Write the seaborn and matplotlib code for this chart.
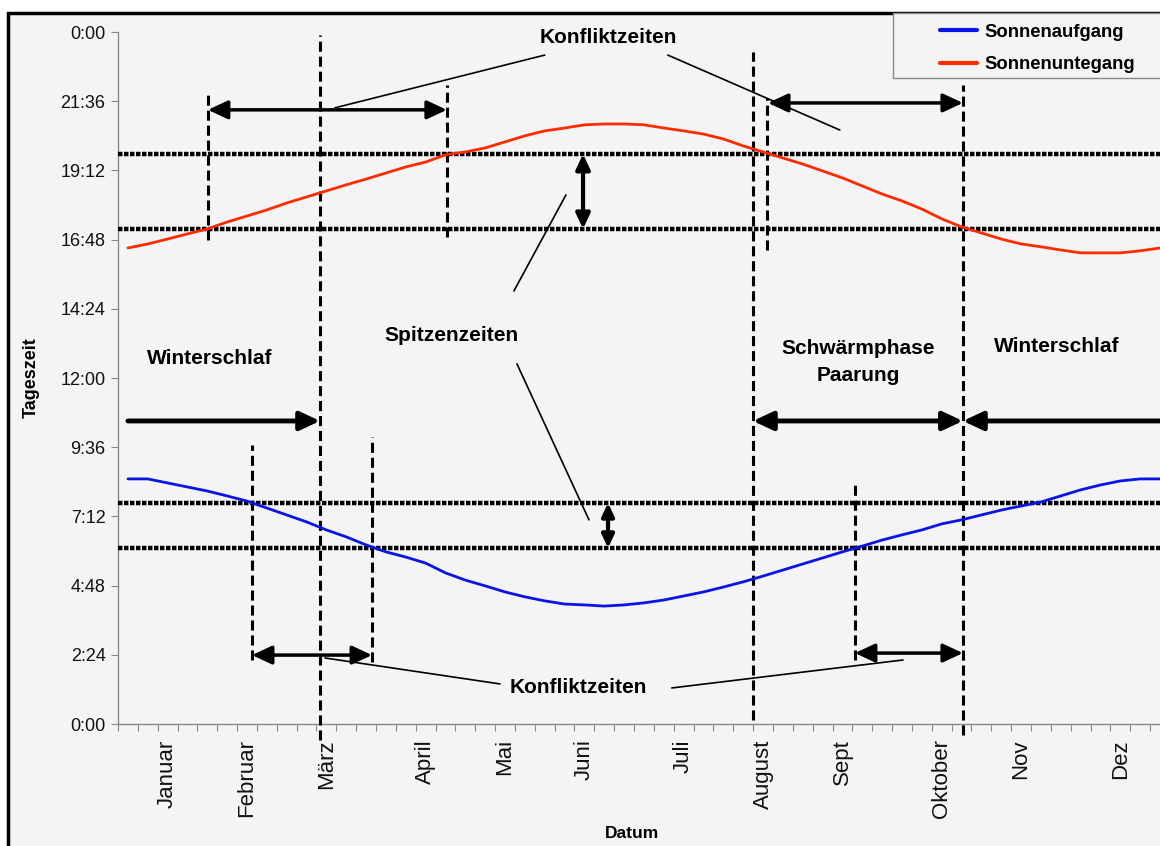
import numpy as np
import pandas as pd
import matplotlib
matplotlib.use('Agg')
import matplotlib.pyplot as plt
from matplotlib.patches import Rectangle
from matplotlib.lines import Line2D
import seaborn as sns

sns.set_style('white')
plt.rcParams['font.family'] = ['Liberation Sans', 'DejaVu Sans']
plt.rcParams['text.color'] = 'black'
plt.rcParams['axes.labelcolor'] = 'black'
plt.rcParams['xtick.labelcolor'] = '#111111'
plt.rcParams['ytick.labelcolor'] = '#111111'

# Tageszeit in Stunden, eine Kategorie pro Woche
sonnenaufgang = [8.50, 8.50, 8.36, 8.22, 8.08, 7.91, 7.73, 7.49, 7.25, 7.01,
                 6.73, 6.49, 6.21, 5.97, 5.79, 5.58, 5.24, 4.99, 4.79, 4.58,
                 4.41, 4.27, 4.16, 4.13, 4.09, 4.13, 4.20, 4.30, 4.44, 4.58,
                 4.75, 4.93, 5.13, 5.34, 5.55, 5.76, 5.97, 6.17, 6.38, 6.56,
                 6.73, 6.94, 7.08, 7.25, 7.42, 7.56, 7.70, 7.91, 8.12, 8.29,
                 8.43, 8.50, 8.50]
sonnenuntergang = [16.51, 16.65, 16.82, 17.00, 17.17, 17.41, 17.62, 17.83, 18.07, 18.28,
                   18.49, 18.70, 18.90, 19.11, 19.32, 19.49, 19.74, 19.84, 19.98, 20.19,
                   20.40, 20.57, 20.67, 20.78, 20.81, 20.81, 20.78, 20.67, 20.57, 20.46,
                   20.29, 20.05, 19.84, 19.63, 19.42, 19.18, 18.94, 18.66, 18.38, 18.14,
                   17.86, 17.52, 17.24, 17.03, 16.82, 16.65, 16.55, 16.44, 16.34, 16.34,
                   16.34, 16.41, 16.51]
wochen = np.arange(len(sonnenaufgang)) + 0.5

monate = ['Januar', 'Februar', 'März', 'April', 'Mai', 'Juni', 'Juli',
          'August', 'Sept', 'Oktober', 'Nov', 'Dez']
monat_wochen = [2, 6, 10, 15, 19, 23, 28, 32, 36, 41, 45, 50]

y_ticks = [0, 2.4, 4.8, 7.2, 9.6, 12, 14.4, 16.8, 19.2, 21.6, 24]
y_labels = ['0:00', '2:24', '4:48', '7:12', '9:36', '12:00', '14:24',
            '16:48', '19:12', '21:36', '0:00']

# Spitzenzeiten (gepunktete Linien)
spitze_abend = [17.17, 19.77]
spitze_morgen = [6.10, 7.67]

# gestrichelte Grenzen: Woche, von, bis
grenzen = [(4.53, 16.79, 21.92), (10.18, -0.55, 23.9), (16.57, 16.89, 22.16),
           (6.75, 2.22, 9.68), (12.8, 2.15, 9.95), (31.99, 0.14, 23.3),
           (32.7, 16.44, 21.7), (37.13, 2.22, 8.36), (42.57, -0.38, 22.16)]

# Pfeile: x1, y1, x2, y2, stil, breite, groesse
pfeile = [(4.53, 21.30, 16.57, 21.30, '<|-|>', 2.5, 20),
          (32.75, 21.54, 42.57, 21.54, '<|-|>', 2.5, 20),
          (0.5, 10.51, 10.18, 10.51, '-|>', 3.5, 20),
          (31.99, 10.51, 42.57, 10.51, '<|-|>', 3.5, 20),
          (52.6, 10.51, 42.57, 10.51, '-|>', 3.5, 20),
          (6.75, 2.39, 12.8, 2.39, '<|-|>', 2.5, 20),
          (37.13, 2.46, 42.57, 2.46, '<|-|>', 2.5, 20),
          (23.43, 19.77, 23.43, 17.17, '<|-|>', 3, 15),
          (24.69, 7.67, 24.69, 6.10, '<|-|>', 3, 13)]

# Verbindungslinien der Beschriftungen
striche = [(21.5, 23.2, 10.93, 21.37), (27.7, 23.2, 36.37, 20.6),
           (19.95, 15.02, 22.57, 18.35), (20.1, 12.49, 23.73, 7.08),
           (19.24, 1.39, 10.43, 2.29), (27.9, 1.25, 39.55, 2.22)]

texte = [('Konfliktzeiten', 24.7, 23.8), ('Konfliktzeiten', 23.17, 1.28),
         ('Spitzenzeiten', 16.78, 13.49), ('Winterschlaf', 4.63, 12.69),
         ('Schwärmphase\nPaarung', 37.28, 12.56), ('Winterschlaf', 47.3, 13.08)]

df = pd.DataFrame({
    'Woche': np.concatenate([wochen, wochen]),
    'Zeit': sonnenaufgang + sonnenuntergang,
    'Serie': ['Sonnenaufgang'] * len(wochen) + ['Sonnenuntegang'] * len(wochen),
})
farben = {'Sonnenaufgang': '#0a14e6', 'Sonnenuntegang': '#ff2a00'}

fig = plt.figure(figsize=(11.6, 8.46), dpi=100, facecolor='white')
fig.add_artist(Rectangle((8 / 1160, -0.05), 1.1, 1 - 13 / 846 + 0.05,
                         transform=fig.transFigure, facecolor='#f4f4f4',
                         edgecolor='black', lw=2.5, zorder=-2))
fig.add_artist(Rectangle((893 / 1160, 1 - 78 / 846), 0.3, 65 / 846,
                         transform=fig.transFigure, facecolor='#f4f4f4',
                         edgecolor='#888888', lw=1, zorder=-1))
ax = fig.add_axes([118 / 1160, 1 - 724 / 846, 1 - 118 / 1160, (724 - 32) / 846])
ax.set_facecolor('none')

sns.lineplot(data=df, x='Woche', y='Zeit', hue='Serie', palette=farben,
             lw=2, ax=ax, legend=False, zorder=4)

for y in spitze_abend + spitze_morgen:
    ax.axhline(y, color='black', lw=3.2, ls=(0, (1.0, 0.35)), zorder=3)

for x, y0, y1 in grenzen:
    ax.plot([x, x], [y0, y1], color='black', lw=2.2, ls=(0, (3.3, 1.6)),
            clip_on=False, zorder=3)

for x1, y1, x2, y2, stil, breite, groesse in pfeile:
    ax.annotate('', xy=(x2, y2), xytext=(x1, y1), annotation_clip=False,
                arrowprops=dict(arrowstyle=stil + ',head_length=0.6,head_width=0.28',
                                color='black', lw=breite, shrinkA=0, shrinkB=0,
                                mutation_scale=groesse), zorder=5)

for x1, y1, x2, y2 in striche:
    ax.plot([x1, x2], [y1, y2], color='black', lw=1.2, zorder=5)

for t, x, y in texte:
    ax.text(x, y, t, ha='center', va='center', fontsize=15, fontweight='bold',
            linespacing=1.55, zorder=6)

ax.set_xlim(0, 52.5)
ax.set_ylim(0, 24)
ax.set_yticks(y_ticks, y_labels)
ax.set_xticks(np.arange(0, 53))
ax.set_xticklabels([])
ax.set_xticks(np.array(monat_wochen) + 0.5, monate, minor=True)
ax.tick_params(axis='y', length=5, color='#888888', labelsize=13, pad=4, left=True)
ax.tick_params(axis='x', which='major', length=5, color='#888888', bottom=True)
ax.tick_params(axis='x', which='minor', length=0, labelsize=16, pad=11,
               labelrotation=90)
for s in ['top', 'right']:
    ax.spines[s].set_visible(False)
for s in ['left', 'bottom']:
    ax.spines[s].set_color('#888888')
    ax.spines[s].set_linewidth(1)

ax.set_xlabel('Datum', fontsize=12.5, fontweight='bold')
ax.set_ylabel('Tageszeit', fontsize=13, fontweight='bold')
ax.xaxis.set_label_coords((632 - 118) / 1042, (724 - 833) / 692)
ax.xaxis.label.set_va('center')
ax.yaxis.set_label_coords((40 - 118) / 1042, 0.5)

handles = [Line2D([], [], color=farben[k], lw=3) for k in farben]
leg = ax.legend(handles, list(farben), loc='upper left',
                bbox_to_anchor=(925 / 1160, 1 - 9 / 846), bbox_transform=fig.transFigure,
                frameon=False, prop=dict(weight='bold', size=13.3), handlelength=2.0,
                handletextpad=0.4, labelspacing=0.85, borderpad=0.3)
leg.set_zorder(10)

fig.savefig('out.png', dpi=100, facecolor=fig.get_facecolor())
